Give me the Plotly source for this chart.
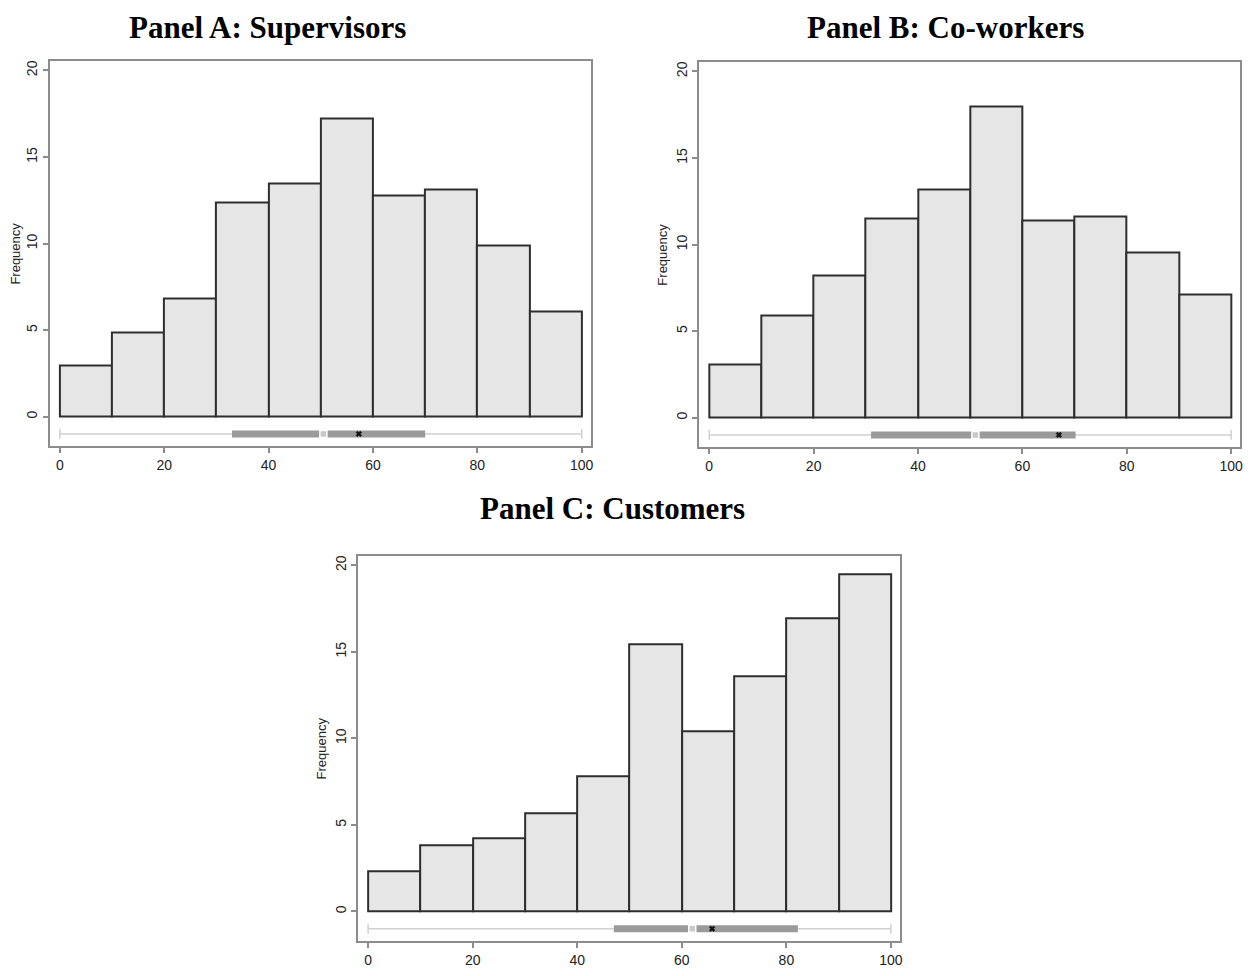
import plotly.graph_objects as go

# histogram bins (score 0-100, width 10)
bin_edges = [0, 10, 20, 30, 40, 50, 60, 70, 80, 90, 100]

# bar heights
freq_supervisors = [2.95, 4.85, 6.8, 12.4, 13.45, 17.2, 12.75, 13.1, 9.9, 6.05]
freq_coworkers = [3.05, 5.9, 8.2, 11.5, 13.2, 18.0, 11.4, 11.6, 9.55, 7.1]
freq_customers = [2.3, 3.8, 4.2, 5.65, 7.8, 15.45, 10.4, 13.6, 16.95, 19.5]

# box strip under each histogram: [min, q1, median, q3, max, mean]
box_supervisors = [0, 33, 50.5, 70, 100, 57.3]
box_coworkers = [0, 31, 51, 70.2, 100, 67.0]
box_customers = [0, 47, 62, 82.2, 100, 65.8]

panel_titles = ["Panel A: Supervisors", "Panel B: Co-workers", "Panel C: Customers"]
x_ticks = [0, 20, 40, 60, 80, 100]
y_ticks = [0, 5, 10, 15, 20]

# page is 1257x976 but the browser body has an 8px margin
OFF = 8
W, H = 1257 - 2 * OFF, 976 - 2 * OFF
centers = [(a + b) / 2 for a, b in zip(bin_edges[:-1], bin_edges[1:])]

# page-pixel boxes of the three plot frames (left, right, top, bottom)
frames = [(50, 592, 61, 450), (701, 1243, 62, 451), (359, 902, 561, 950)]
# title centre x and top edge of text box (page pixels)
title_pos = [(268, 8), (948, 8), (614, 494)]

FRAME = "#8c8c8c"
BOX_Y = -1.0


def px_x(p):
    return (p - OFF) / W


def px_y(p):
    return 1 - (p - OFF) / H


fig = go.Figure()
panels = [(freq_supervisors, box_supervisors),
          (freq_coworkers, box_coworkers),
          (freq_customers, box_customers)]

for i, (freq, box) in enumerate(panels):
    n = "" if i == 0 else str(i + 1)
    xa, ya = "x" + n, "y" + n
    vmin, q1, med, q3, vmax, mean = box

    fig.add_trace(go.Bar(
        x=centers, y=freq, width=10, xaxis=xa, yaxis=ya,
        marker=dict(color="#e6e6e6", line=dict(color="#2e2e2e", width=2)),
        showlegend=False, hoverinfo="x+y"
    ))
    # whisker line with end caps
    fig.add_trace(go.Scatter(
        x=[vmin, vmax], y=[BOX_Y, BOX_Y], xaxis=xa, yaxis=ya,
        mode="lines+markers",
        line=dict(color="#d0d0d0", width=1.5),
        marker=dict(symbol="line-ns", size=7, line=dict(color="#d0d0d0", width=1.5)),
        showlegend=False, hoverinfo="skip"
    ))
    # interquartile box
    fig.add_trace(go.Scatter(
        x=[q1, q3], y=[BOX_Y, BOX_Y], xaxis=xa, yaxis=ya,
        mode="lines", line=dict(color="#9a9a9a", width=7),
        showlegend=False, hoverinfo="skip"
    ))
    # median
    fig.add_trace(go.Scatter(
        x=[med], y=[BOX_Y], xaxis=xa, yaxis=ya, mode="markers",
        marker=dict(symbol="square", size=7, color="#c8c8c8",
                    line=dict(color="white", width=1.5)),
        showlegend=False, hoverinfo="skip"
    ))
    # mean
    fig.add_trace(go.Scatter(
        x=[mean], y=[BOX_Y], xaxis=xa, yaxis=ya, mode="markers",
        marker=dict(symbol="x", size=5, color="#111111",
                    line=dict(color="#111111", width=0.5)),
        showlegend=False, hoverinfo="skip"
    ))

    l, r, t, b = frames[i]
    axis_common = dict(showline=True, linecolor=FRAME, linewidth=2, mirror=True,
                       showgrid=False, zeroline=False, ticks="outside",
                       ticklen=5, tickcolor=FRAME, tickwidth=1.5,
                       tickfont=dict(family="Liberation Sans, Arial", size=14, color="#222"))
    fig.update_layout(**{
        "xaxis" + n: dict(domain=[px_x(l), px_x(r)], anchor=ya, range=[-1.9, 101.7],
                          tickvals=x_ticks, **axis_common),
        "yaxis" + n: dict(domain=[px_y(b), px_y(t)], anchor=xa, range=[-1.72, 20.52],
                          tickvals=y_ticks, tickangle=-90,
                          title=dict(text="Frequency", standoff=3,
                                     font=dict(family="Liberation Sans, Arial", size=13, color="#222")),
                          **axis_common),
    })

    tx, ty = title_pos[i]
    fig.add_annotation(
        text="<b>" + panel_titles[i] + "</b>", xref="paper", yref="paper",
        x=px_x(tx), y=px_y(ty), xanchor="center", yanchor="top", showarrow=False,
        borderpad=0,
        font=dict(family="Liberation Serif, Times New Roman", size=31, color="black")
    )

fig.update_layout(
    width=W, height=H,
    margin=dict(l=0, r=0, t=0, b=0),
    paper_bgcolor="white", plot_bgcolor="white",
    bargap=0, showlegend=False
)

fig.write_html("out.html")
